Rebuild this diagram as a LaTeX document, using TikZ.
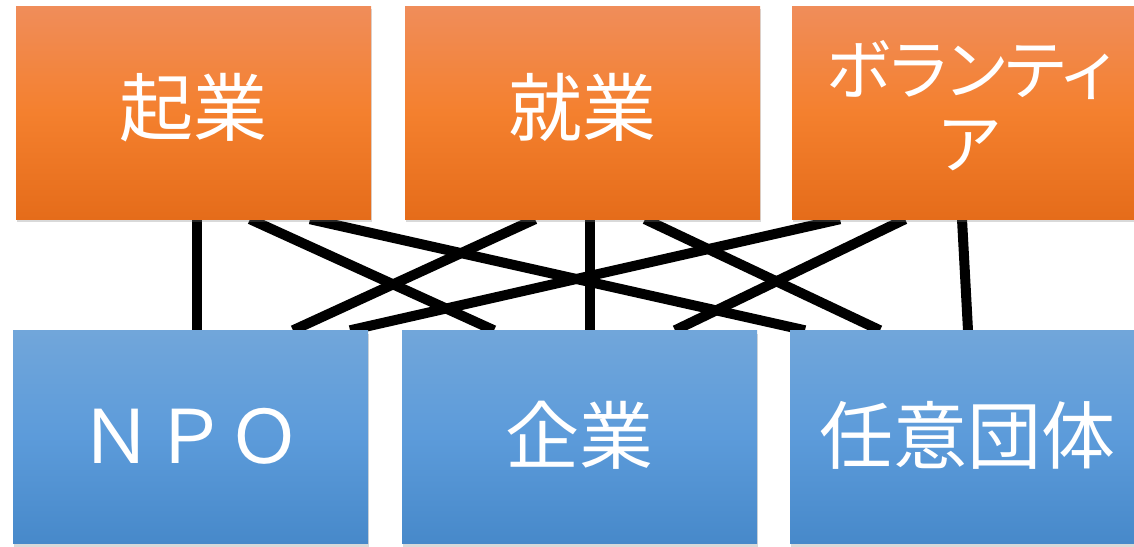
\documentclass[tikz,border=0pt]{standalone}
\usepackage{fontspec}
\newfontfamily\jp{Noto Sans CJK JP}
\newfontfamily\jpp[RawFeature=+palt]{Noto Sans CJK JP}
\usetikzlibrary{shadows}
\pgfdeclarelayer{bg}
\pgfsetlayers{bg,main}
\definecolor{otop}{RGB}{240,141,90}
\definecolor{omid}{RGB}{244,128,46}
\definecolor{obot}{RGB}{229,108,26}
\definecolor{btop}{RGB}{113,166,218}
\definecolor{bmid}{RGB}{92,155,218}
\definecolor{bbot}{RGB}{71,137,202}
\begin{document}
\begin{tikzpicture}[x=1pt,y=-1pt,
  box/.style={minimum width=355pt, minimum height=213pt, inner sep=0pt,
    text=white, font=\jp\fontsize{74}{76}\selectfont, align=center,
    drop shadow={opacity=0.3, shadow xshift=1pt, shadow yshift=-3pt}},
  obox/.style={box, top color=otop, bottom color=obot, middle color=omid,
    text height=60pt, text depth=13.8pt},
  bbox/.style={box, top color=btop, bottom color=bbot, middle color=bmid,
    text height=62pt, text depth=10pt},
  link/.style={line width=10pt, black}]
\useasboundingbox (0,0) rectangle (1134,546);
\clip (0,0) rectangle (1134,546);
\node[obox] (k1) at (193.5,112.5) {起業};
\node[obox] (k2) at (582.5,112.5) {就業};
\node[obox, font=\jpp\fontsize{66}{74}\selectfont, text height=125pt, text depth=14pt] (k3) at (969.5,112.5) {ボランティ\\ア};
\node[bbox] (k4) at (190.5,437) {ＮＰＯ};
\node[bbox] (k5) at (579.5,437) {企業};
\node[bbox] (k6) at (967.5,437) {任意団体};
\begin{pgfonlayer}{bg}
\draw[link] ([xshift=3.5pt]k1.south) -- ([xshift=6.5pt]k4.north);
\draw[link] ([xshift=56.5pt]k1.south) -- ([xshift=-85.5pt]k5.north);
\draw[link] ([xshift=116.5pt]k1.south) -- ([xshift=-162.5pt]k6.north);
\draw[link] ([xshift=-47.5pt]k2.south) -- ([xshift=102.5pt]k4.north);
\draw[link] ([xshift=7.5pt]k2.south) -- ([xshift=10.5pt]k5.north);
\draw[link] ([xshift=62.5pt]k2.south) -- ([xshift=-87.5pt]k6.north);
\draw[link] ([xshift=-129.5pt]k3.south) -- ([xshift=159.5pt]k4.north);
\draw[link] ([xshift=-64.5pt]k3.south) -- ([xshift=95.5pt]k5.north);
\draw[link] ([xshift=-7.5pt]k3.south) -- ([xshift=0.5pt]k6.north);
\end{pgfonlayer}
\end{tikzpicture}
\end{document}
